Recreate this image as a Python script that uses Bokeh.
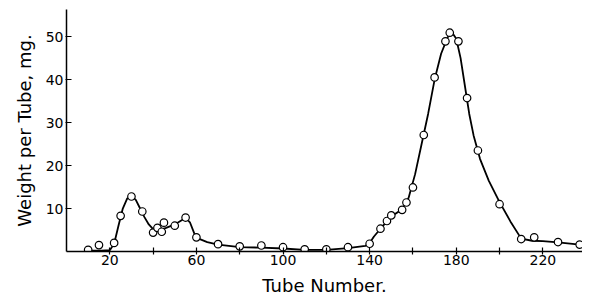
from bokeh.plotting import figure
from bokeh.models import Range1d, FixedTicker
from bokeh.embed import file_html
from bokeh.resources import INLINE

# Observed tube data (open circles)
tube_pts = [10, 15, 22, 25, 30, 35, 40, 42, 44, 45, 50, 55, 60, 70, 80, 90, 100, 110, 120, 130,
            140, 145, 148, 150, 155, 157, 160, 165, 170, 175, 177, 181, 185, 190, 200, 210, 216, 227, 237]
weight_pts = [0.4, 1.5, 2.0, 8.3, 12.8, 9.3, 4.4, 5.5, 4.6, 6.7, 6.0, 7.9, 3.3, 1.7, 1.2, 1.4, 1.0, 0.5, 0.5, 1.0,
              1.8, 5.3, 7.1, 8.4, 9.7, 11.4, 14.9, 27.1, 40.5, 48.9, 50.9, 48.9, 35.7, 23.5, 11.0, 2.9, 3.3, 2.2, 1.6]

# Hand-drawn smooth curve
curve_x = [9, 12, 16, 20, 22, 24, 26, 28, 30, 32, 34, 36, 38, 40, 43, 46, 50, 53, 55, 57, 59, 61, 65, 70,
           80, 90, 100, 110, 120, 130, 138, 140, 142, 145, 148, 151, 155, 158, 161, 164, 167, 170, 173,
           176, 178, 180, 182, 184, 186, 188, 191, 195, 200, 205, 210, 215, 220, 227, 237]
curve_y = [0.2, 0.2, 0.2, 0.3, 1.8, 6.0, 10.0, 12.3, 12.9, 12.0, 10.0, 8.0, 6.3, 5.2, 5.0, 5.5, 6.3, 7.2, 7.8,
           6.8, 4.2, 3.0, 2.2, 1.6, 1.0, 0.9, 0.7, 0.4, 0.4, 0.8, 1.3, 2.0, 3.5, 5.3, 7.0, 8.5, 9.8, 12.5,
           18.0, 25.0, 32.0, 40.0, 46.0, 49.8, 51.0, 49.5, 45.0, 38.5, 32.0, 27.0, 21.5, 16.5, 11.5, 7.0,
           3.0, 2.5, 2.4, 2.1, 1.6]

x_ticks = [20, 40, 60, 80, 100, 120, 140, 160, 180, 200, 220, 240]
x_labels = {20: "20", 40: "", 60: "60", 80: "", 100: "100", 120: "", 140: "140", 160: "",
            180: "180", 200: "", 220: "220", 240: ""}
y_ticks = [10, 20, 30, 40, 50]

p = figure(width=582, height=298, output_backend="svg", toolbar_location=None,
           x_range=Range1d(0, 238.3), y_range=Range1d(0, 56.3),
           min_border_left=66, min_border_right=0, min_border_top=9, min_border_bottom=47)
p.outline_line_color = None
p.xgrid.visible = False
p.ygrid.visible = False
p.background_fill_color = "white"
p.border_fill_color = "white"

p.line(curve_x, curve_y, line_color="black", line_width=1.8)
p.scatter(tube_pts, weight_pts, marker="circle", size=7.5, fill_color="white",
          line_color="black", line_width=1.2)

font = "DejaVu Sans"
xa = p.xaxis[0]
xa.ticker = FixedTicker(ticks=x_ticks)
xa.major_label_overrides = x_labels
xa.minor_tick_line_color = None
xa.major_tick_in = 4
xa.major_tick_out = 3
xa.axis_line_width = 1.5
xa.major_tick_line_width = 1.2
xa.major_label_text_font = font
xa.major_label_text_font_size = "14px"
xa.major_label_text_color = "black"
xa.major_label_standoff = 0
xa.axis_label = "Tube Number."
xa.axis_label_text_font = font
xa.axis_label_text_font_size = "18px"
xa.axis_label_text_font_style = "normal"
xa.axis_label_text_color = "black"
xa.axis_label_standoff = 7

ya = p.yaxis[0]
ya.ticker = FixedTicker(ticks=y_ticks)
ya.minor_tick_line_color = None
ya.major_tick_in = 5
ya.major_tick_out = 1
ya.axis_line_width = 1.5
ya.major_tick_line_width = 1.2
ya.major_label_text_font = font
ya.major_label_text_font_size = "14px"
ya.major_label_text_color = "black"
ya.major_label_standoff = 2
ya.axis_label = "Weight per Tube, mg."
ya.axis_label_text_font = font
ya.axis_label_text_font_size = "18px"
ya.axis_label_text_font_style = "normal"
ya.axis_label_text_color = "black"
ya.axis_label_standoff = 8

open("out.html", "w").write(file_html(p, INLINE))
